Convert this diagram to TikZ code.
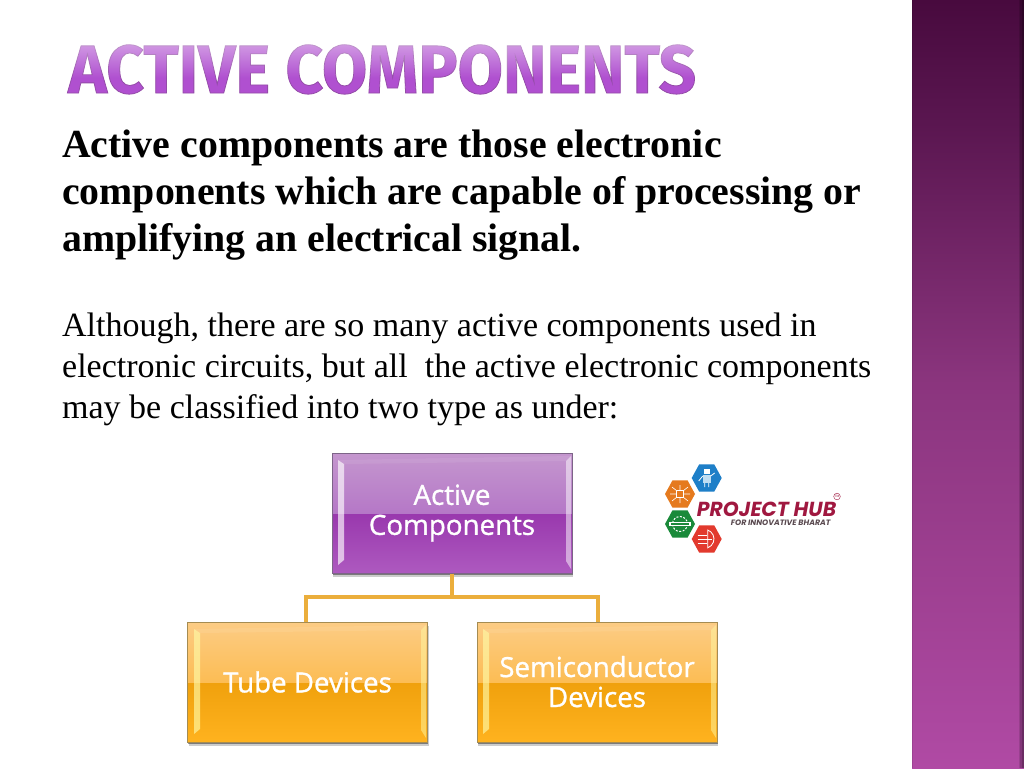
\documentclass[tikz,border=0pt]{standalone}
\usepackage{fontspec}
\setmainfont{Liberation Serif}
\newfontfamily\boxfont{Open Sans}
\newfontfamily\titlefont{Fira Sans}
\newfontfamily\logofont{Poppins}
\usetikzlibrary{shadows,fadings}
\definecolor{sideA}{HTML}{480A3E}
\definecolor{sideB}{HTML}{5A1650}
\definecolor{sideC}{HTML}{8B357E}
\definecolor{sideD}{HTML}{B04AA4}
\definecolor{titlefill}{HTML}{B050D0}
\definecolor{linkgold}{HTML}{EBAE3C}
\definecolor{linkedge}{HTML}{C49A4E}
\definecolor{purpleedge}{HTML}{7D6488}
\definecolor{orangeedge}{HTML}{A58C52}
\definecolor{logoblue}{HTML}{1E7FC8}
\definecolor{logolight}{HTML}{BFDDF2}
\definecolor{logoorange}{HTML}{E57A1E}
\definecolor{logogreen}{HTML}{1A8A3A}
\definecolor{logored}{HTML}{E23A2E}
\definecolor{logocrimson}{HTML}{A01840}
\definecolor{logogrey}{HTML}{5A4A50}
\pgfdeclareverticalshading{sidebarshade}{100bp}{
 color(0bp)=(sideD); color(25bp)=(sideD); color(50bp)=(sideC); color(67bp)=(sideB); color(75bp)=(sideA); color(100bp)=(sideA)}
\pgfdeclareverticalshading{purpleglass}{100bp}{
 rgb(0bp)=(0.68,0.35,0.75); rgb(25bp)=(0.68,0.35,0.75); rgb(49.9bp)=(0.60,0.22,0.68);
 rgb(50bp)=(0.71,0.47,0.78); rgb(75bp)=(0.77,0.59,0.81); rgb(100bp)=(0.77,0.59,0.81)}
\pgfdeclareverticalshading{orangeglass}{100bp}{
 rgb(0bp)=(1.0,0.70,0.12); rgb(25bp)=(1.0,0.70,0.12); rgb(49.9bp)=(0.94,0.63,0.05);
 rgb(50bp)=(0.99,0.74,0.33); rgb(75bp)=(0.99,0.80,0.52); rgb(100bp)=(0.99,0.80,0.52)}
\newcommand{\heavy}[1]{\special{pdf:code 2 Tr 0.3 w 1 1 1 RG}#1\special{pdf:code 0 Tr}}
\tikzset{
 glassbox/.style={minimum width=240pt,minimum height=120pt,inner sep=0pt,align=center,text=white,
   font=\boxfont\fontsize{27.7}{30}\selectfont,draw=#1,line width=1pt,
   drop shadow={shadow xshift=1pt,shadow yshift=-4pt,opacity=.2,fill=black},
   drop shadow={shadow xshift=.5pt,shadow yshift=-2pt,opacity=.4,fill=black}},
 purplebox/.style={glassbox=purpleedge,shading=purpleglass},
 orangebox/.style={glassbox=orangeedge,shading=orangeglass},
 linkout/.style={draw=linkedge,line width=4.6pt},
 linkin/.style={draw=linkgold,line width=3.2pt},
 lead/.style={anchor=north west,align=left,inner sep=0pt,font=\bfseries\fontsize{39.8}{47.3}\selectfont},
 body/.style={anchor=north west,align=left,inner sep=0pt,font=\fontsize{34}{40.8}\selectfont},
 hexa/.pic={\fill[#1] (-15,0)--(-7.5,-13.7)--(7.5,-13.7)--(15,0)--(7.5,13.7)--(-7.5,13.7)--cycle;},
 ico/.style={draw=white,line width=.8pt},
 icof/.style={fill=white}
}
\newcommand{\bevels}[5]{% x1 y1 x2 y2 colour
  \fill[#5,opacity=.65] (#1+6,#2+7)--(#1+12,#2+11)--(#1+12,#4-13)--(#1+6,#4-8)--cycle;
  \fill[#5,opacity=.5] (#3-1,#2+3)--(#3-6,#2+8)--(#3-6,#4-12)--(#3-1,#4-4)--cycle;
  \fill[white,opacity=.08] (#1+6,#2+7)--(#3-1,#2+3)--(#3-6,#2+8)--(#1+12,#2+11)--cycle;
}
\begin{document}
\begin{tikzpicture}[x=1pt,y=-1pt]
\useasboundingbox (0,0) rectangle (1024,768);
\fill[white] (0,0) rectangle (1024,768);
% sidebar
\shade[shading=sidebarshade] (912,0) rectangle (1024,768);
\fill[black,opacity=.10] (912,0) rectangle (913,768);
\fill[black,opacity=.12] (1018.5,0) rectangle (1024,768);
\fill[black,opacity=.14] (1020,0) rectangle (1024,768);
\fill[black,opacity=.18] (1021.5,0) rectangle (1024,768);
% title
\node[anchor=base west,inner sep=0pt,text=titlefill] (title) at (68,93)
 {\scalebox{.965}[1]{\titlefont\bfseries\fontsize{68}{68}\selectfont\special{pdf:code 2 Tr 0.8 w 0.58 0.30 0.66 RG}ACTIVE COMPONENTS\special{pdf:code 0 Tr}}};
\fill[white,opacity=.42,path fading=south] (60,44) rectangle (705,78);
% text
\node[lead] (lead) at (62,129.5) {Active components are those electronic\\components which are capable of processing or\\amplifying an electrical signal.};
\node[body] (bodytext) at (62,313) {Although, there are so many active components used in\\electronic circuits, but all\ \ the active electronic components\\may be classified into two type as under:};
% connectors
\coordinate (bus) at (452,597);
% boxes
\node[purplebox] (active) at (452,513) {\raisebox{-2.5pt}{\heavy{Active}}\\\raisebox{-2.5pt}{\heavy{Components}}};
\node[orangebox] (tube) at (307.5,682) {\heavy{Tube Devices}};
\node[orangebox] (semi) at (597,682) {\raisebox{1pt}{\heavy{Semiconductor}}\\\raisebox{1pt}{\heavy{Devices}}};
\foreach \s in {linkout,linkin}{
 \draw[\s] (active.south) -- (bus);
 \draw[\s] ([xshift=-1.5pt]tube.north) |- (bus) -| ([xshift=1pt]semi.north);
}
\bevels{332}{453}{572}{573}{white}
\bevels{188}{622}{427}{742}{yellow!35!white}
\bevels{477}{622}{717}{742}{yellow!35!white}
% logo
\pic at (706.7,478) {hexa=logoblue};
\pic at (680,494) {hexa=logoorange};
\pic at (680,524) {hexa=logogreen};
\pic at (706.7,539) {hexa=logored};
% robot icon
\begin{scope}[shift={(706.7,478)}]
 \fill[icof] (-3,-9) rectangle (3,-4);
 \fill[logolight] (-4,-3) rectangle (4,5);
 \draw[ico] (-4,-2)--(-8,3) (4,-2)--(8,-5) (-2,5)--(-2,9) (2,5)--(2,9);
\end{scope}
% chip icon
\begin{scope}[shift={(680,494)}]
 \draw[ico] (-3.5,-3.5) rectangle (3.5,3.5);
 \draw[ico,line width=.6pt] (-3.5,0)--(-10,0) (3.5,0)--(10,0) (0,-3.5)--(0,-9) (0,3.5)--(0,9)
   (-3,-3)--(-8,-7) (3,-3)--(8,-7) (-3,3)--(-8,7) (3,3)--(8,7);
\end{scope}
% gear icon
\begin{scope}[shift={(680,524)}]
 \fill[icof] (-11,-2.2) rectangle (11,2.2);
 \draw[ico,line width=1pt,dash pattern=on 2pt off 1.5pt] (0,0) circle (7.5);
 \fill[logogreen] (-9,-1) rectangle (9,1);
\end{scope}
% bow icon
\begin{scope}[shift={(706.7,539)}]
 \draw[ico] (1,-9) arc (-70:70:9.5) -- cycle;
 \draw[ico,line width=.6pt] (-9,-4)--(0,-4) (-9,0)--(5,0) (-9,4)--(0,4);
\end{scope}
\node[anchor=base west,inner sep=0pt,text=logocrimson,text depth=0pt] (hub) at (696.7,516)
 {\logofont\bfseries\itshape\fontsize{20.3}{20}\selectfont PROJECT HUB};
\node[anchor=base west,inner sep=0pt,text=logogrey,text depth=0pt,text height=5pt] (tagline) at (730.7,525.5)
 {\logofont\bfseries\itshape\fontsize{7.8}{8}\selectfont FOR INNOVATIVE BHARAT};
\node[draw=logocrimson,circle,line width=.4pt,inner sep=.6pt,text=logocrimson] (tm) at (837,496.5)
 {\logofont\fontsize{3.2}{3.2}\selectfont TM};
\end{tikzpicture}
\end{document}
